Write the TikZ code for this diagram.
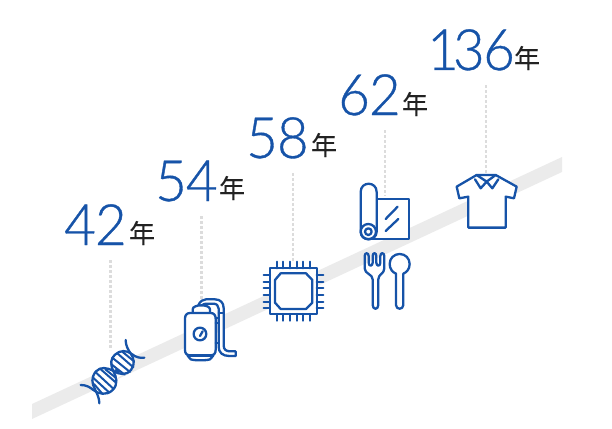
\documentclass[tikz,border=0pt]{standalone}
\usepackage{fontspec}
\newfontfamily\numfont[FakeBold=0.6,FakeStretch=0.96]{Lato Light}
\newfontfamily\cjk[FakeBold=0.25]{Noto Sans CJK JP}
\definecolor{iconblue}{HTML}{1653A8}
\definecolor{darktext}{HTML}{222222}
\definecolor{bandgray}{HTML}{EBEBEB}
\definecolor{dotgray}{HTML}{DCDCDC}
\tikzset{
  num/.style={font=\numfont\fontsize{57}{57}\selectfont,text=iconblue,inner sep=0pt,anchor=base west},
  nen/.style={font=\cjk\fontsize{26}{26}\selectfont,text=darktext,inner sep=0pt},
  stem/.style={draw=dotgray,line width=2.8pt,dash pattern=on 2.6pt off 2.4pt},
  icon/.style={draw=iconblue,line width=2.3pt,line join=round,line cap=round},
  zoomA/.style={shift={(60,290)},x=0.3333pt,y=-0.3333pt},
  zoomB/.style={shift={(250,170)},x=0.3333pt,y=-0.3333pt},
  zoomC/.style={shift={(430,20)},x=0.3333pt,y=-0.3333pt},
}
\begin{document}
\begin{tikzpicture}[x=1pt,y=-1pt]
\useasboundingbox (0,0) rectangle (612,428);
\fill[bandgray] (32,404) -- (562,157) -- (562,172) -- (32,419) -- cycle;

% labels
\node[num] (n42) at (64,245) {4\kern-1pt 2};
\node[num] (n54) at (155,201) {5\kern-1pt 4};
\node[num] (n58) at (246,158) {5\kern-1pt 8};
\node[num] (n62) at (338,115) {6\kern-1pt 2};
\node[num] (n136) at (427,70) {1\kern-6pt 3\kern-1.5pt 6};
\node[nen] (y42) at (142,233) {年};
\node[nen] (y54) at (232,188) {年};
\node[nen] (y58) at (324,145) {年};
\node[nen] (y62) at (415,104) {年};
\node[nen] (y136) at (527,58) {年};

% stems
\coordinate (s42a) at (110.5,260); \coordinate (s42b) at (110.5,350);
\coordinate (s54a) at (201.5,216); \coordinate (s54b) at (201.5,300);
\coordinate (s58a) at (293,173);   \coordinate (s58b) at (293,262);
\coordinate (s62a) at (385,130);   \coordinate (s62b) at (385,196);
\coordinate (s136a) at (486,85);   \coordinate (s136b) at (486,174);
\draw[stem] (s42a) -- (s42b);
\draw[stem] (s54a) -- (s54b);
\draw[stem] (s58a) -- (s58b);
\draw[stem] (s62a) -- (s62b);
\draw[stem] (s136a) -- (s136b);

% DNA
\begin{scope}[zoomA]
\fill[white] plot[smooth cycle] coordinates {(97,265)(120,235)(152,225)(165,193)(195,183)(222,205)(218,235)(185,255)(168,270)(160,300)(125,312)(108,305)};
\draw[icon,line width=2pt] (120,236)--(168,278) (106,246)--(160,296) (98,262)--(146,306) (136,238)--(168,264) (102,282)--(126,310);
\draw[icon,line width=2pt] (172,190)--(220,232) (158,204)--(210,246) (153,222)--(194,254) (188,186)--(222,214) (166,240)--(176,248);
\draw[icon] (62,285) .. controls (80,285) and (90,292) .. (100,300) .. controls (115,312) and (140,318) .. (158,300) .. controls (175,283) and (170,262) .. (160,243) .. controls (150,222) and (152,205) .. (165,194) .. controls (180,180) and (200,180) .. (215,192) .. controls (228,202) and (240,205) .. (253,203);
\draw[icon] (118,340) .. controls (118,325) and (112,312) .. (105,298) .. controls (95,280) and (93,262) .. (108,244) .. controls (122,230) and (140,232) .. (160,243) .. controls (180,255) and (200,256) .. (213,240) .. controls (226,224) and (222,205) .. (212,190) .. controls (203,178) and (197,165) .. (197,150);
\end{scope}

% Tank
\begin{scope}[zoomA]
\draw[icon,fill=white] (415,46) .. controls (420,34) and (428,28) .. (438,28) -- (465,28) .. controls (481,28) and (491,38) .. (491,54) -- (491,166) .. controls (491,178) and (498,184) .. (510,184) -- (527,184) -- (527,198) -- (508,198) .. controls (488,198) and (476,188) .. (476,170) -- (476,56) .. controls (476,47) and (470,41) .. (460,41) -- (438,41) .. controls (432,41) and (428,44) .. (426,48);
\draw[icon,fill=white] (398,70) -- (398,58) .. controls (398,42) and (450,42) .. (450,58) -- (450,70) -- cycle;
\draw[icon,fill=white] (383,197) -- (392,208) .. controls (402,212) and (440,212) .. (450,208) -- (460,197) -- cycle;
\draw[icon,fill=white] (390,69) -- (452,69) .. controls (462,69) and (467,76) .. (467,86) -- (467,180) .. controls (467,190) and (462,196) .. (452,196) -- (390,196) .. controls (380,196) and (375,190) .. (375,180) -- (375,86) .. controls (375,76) and (380,69) .. (390,69) -- cycle;
\draw[icon] (467,84) -- (476,84) (467,100) -- (476,100) (467,160) -- (476,160) (476,70) -- (491,70);
\draw[icon] (420,132) circle[radius=19];
\draw[icon] (420,138) -- (428,124);
\end{scope}

% Chip
\begin{scope}[zoomB]
\draw[icon,fill=white] (60,295) rectangle (200,432);
\draw[icon] (92,310) -- (168,310) -- (187,330) -- (187,398) -- (168,417) -- (92,417) -- (75,398) -- (75,330) -- cycle;
\foreach \p in {80,100,120,140,160,180} {
  \draw[icon] (\p,275) -- (\p,295);
  \draw[icon] (\p,432) -- (\p,452);
}
\foreach \p in {315,335,355,375,395,415} {
  \draw[icon] (41,\p) -- (60,\p);
  \draw[icon] (200,\p) -- (220,\p);
}
\end{scope}

% Roll
\begin{scope}[zoomB]
\path[fill=white] (380,87) rectangle (478,207);
\draw[icon] (380,87) -- (478,87) -- (478,207) -- (355,207);
\draw[icon,fill=white] (332,185) -- (332,66) .. controls (332,33) and (380,33) .. (380,66) -- (380,185) .. controls (380,215) and (332,215) .. (332,185) -- cycle;
\draw[icon] (355,185) circle[radius=23];
\draw[icon] (355,185) circle[radius=10];
\draw[icon] (407,147) -- (443,110) (407,183) -- (445,147);
\end{scope}

% Fork and spoon
\begin{scope}[zoomB]
\draw[icon] (344,258) .. controls (344,247) and (356,247) .. (356,258) -- (356,278) .. controls (356,290) and (368,290) .. (368,278) -- (368,258) .. controls (368,247) and (379,247) .. (379,258) -- (379,278) .. controls (379,290) and (391,290) .. (391,278) -- (391,258) .. controls (391,247) and (403,247) .. (403,258) -- (403,295) .. controls (403,312) and (385,312) .. (385,328) -- (385,405) .. controls (385,420) and (368,420) .. (368,405) -- (368,328) .. controls (368,312) and (344,312) .. (344,295) -- cycle;
\draw[icon] (438,311) -- (438,405) .. controls (438,420) and (460,420) .. (460,405) -- (460,311) .. controls (470,307) and (479,297) .. (479,282) .. controls (479,265) and (466,252) .. (449,252) .. controls (432,252) and (419,265) .. (419,282) .. controls (419,297) and (428,307) .. (438,311) -- cycle;
\end{scope}

% Shirt
\begin{scope}[zoomC]
\draw[icon,fill=white] (140,465) -- (197,465) -- (260,500) -- (252,535) -- (227,530) -- (227,623) -- (115,623) -- (115,530) -- (88,535) -- (80,500) -- cycle;
\draw[icon] (135,478) -- (152,505) -- (170,485) -- (187,505) -- (205,478);
\draw[icon] (140,465) -- (170,485) -- (197,465);
\end{scope}
\end{tikzpicture}
\end{document}
